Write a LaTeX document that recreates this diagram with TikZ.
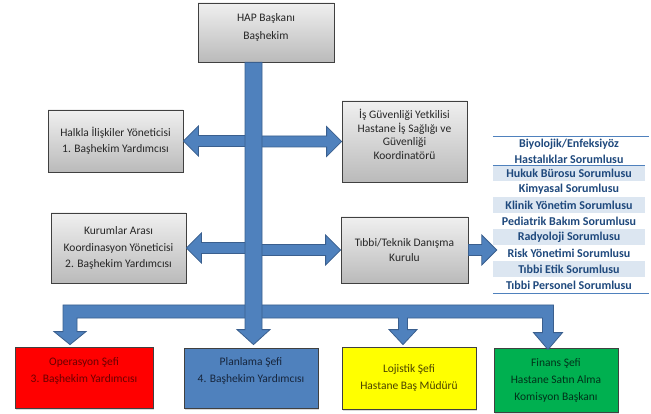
\documentclass[tikz,border=0pt]{standalone}
\usepackage{fontspec}
\setmainfont{Carlito}
\usetikzlibrary{calc,positioning,shadows}

\definecolor{arrowblue}{HTML}{4F81BD}
\definecolor{arrowedge}{HTML}{3A5F8E}
\definecolor{listblue}{HTML}{1F497D}
\definecolor{listband}{HTML}{DCE6F1}
\definecolor{opsred}{HTML}{FF0000}
\definecolor{opstext}{HTML}{6A0000}
\definecolor{plantext}{HTML}{17263D}
\definecolor{logyellow}{HTML}{FFFF00}
\definecolor{logtext}{HTML}{4A4200}
\definecolor{fingreen}{HTML}{00B050}
\definecolor{fintext}{HTML}{00321A}

% horizontal block arrow, tip at #2
\newcommand{\hblock}[2]{%
  \draw[blockarrow] let \p1=(#1), \p2=(#2), \n1={sign(\x2-\x1)} in
    (\x1,\y2+5.5pt) -- (\x2-\n1*15pt,\y2+5.5pt) -- (\x2-\n1*15pt,\y2+15pt) -- (\x2,\y2)
    -- (\x2-\n1*15pt,\y2-15pt) -- (\x2-\n1*15pt,\y2-5.5pt) -- (\x1,\y2-5.5pt) -- cycle;}

\begin{document}
\begin{tikzpicture}[x=1pt,y=-1pt,
    boxshadow/.style={drop shadow={shadow xshift=1.2pt,shadow yshift=-1.5pt,opacity=0.3}},
    graybox/.style={draw=black!75, line width=0.8pt, top color=black!6, bottom color=black!27,
      text=black!85, align=center, inner sep=0pt, boxshadow,
      font=\fontsize{11.5}{16.5}\selectfont},
    chiefbox/.style={draw=black!75, line width=0.8pt, align=center, inner sep=0pt, boxshadow,
      font=\fontsize{11.5}{17}\selectfont},
    lift/.style={text depth=#1},
    blockarrow/.style={fill=arrowblue, draw=arrowedge, line width=0.8pt, line join=miter},
    listrow/.style={minimum width=152pt, minimum height=16pt, inner sep=0pt, text=listblue,
      font=\fontsize{12}{16}\selectfont\bfseries},
    listline/.style={draw=arrowblue, line width=1.2pt}]
  \useasboundingbox (0,0) rectangle (651,414);

  % head and staff boxes
  \node[graybox,lift=12pt,minimum width=136pt,minimum height=59pt] (hap) at (266,32.5) {HAP Başkanı\\[2pt]Başhekim};
  \node[graybox,minimum width=135pt,minimum height=62pt] (halkla) at (115.5,141)
    {Halkla İlişkiler Yöneticisi\\1. Başhekim Yardımcısı};
  \node[graybox,minimum width=135pt,minimum height=70pt] (kurum) at (118.5,248)
    {Kurumlar Arası\\Koordinasyon Yöneticisi\\2. Başhekim Yardımcısı};
  \node[graybox,lift=14pt,minimum width=125pt,minimum height=81pt,font=\fontsize{11.5}{13.5}\selectfont] (isg) at (404.5,141.5)
    {İş Güvenliği Yetkilisi\\Hastane İş Sağlığı ve\\Güvenliği\\Koordinatörü};
  \node[graybox,minimum width=127pt,minimum height=66pt,font=\fontsize{11.5}{15}\selectfont] (tibbi) at (404.5,250)
    {Tıbbi/Teknik Danışma\\Kurulu};

  % list of officers
  \node[listrow,minimum height=28pt,align=center] (biyo) at (569,151)
    {Biyolojik/Enfeksiyöz\\Hastalıklar Sorumlusu};
  \foreach \txt [count=\i] in {Hukuk Bürosu Sorumlusu, Kimyasal Sorumlusu,
      Klinik Yönetim Sorumlusu, Pediatrik Bakım Sorumlusu, Radyoloji Sorumlusu,
      Risk Yönetimi Sorumlusu, Tıbbi Etik Sorumlusu, Tıbbi Personel Sorumlusu} {
    \ifodd\i \def\bandcol{listband}\else\def\bandcol{white}\fi
    \node[listrow,fill=\bandcol] (row\i) at (569,{157+16*\i}) {\txt};
  }
  \draw[listline] (biyo.north west) -- ([xshift=4pt]biyo.north east);
  \draw[listline,line width=0.8pt] (biyo.south west) -- (biyo.south east);
  \draw[listline] (row8.south west) -- ([xshift=4pt]row8.south east);

  % chiefs
  \node[chiefbox,lift=15pt,fill=opsred,text=opstext,minimum width=138pt,minimum height=61pt] (ops) at (84,377.5)
    {Operasyon Şefi\\3. Başhekim Yardımcısı};
  \node[chiefbox,lift=15pt,fill=arrowblue,text=plantext,minimum width=134pt,minimum height=60pt] (plan) at (251,378)
    {Planlama Şefi\\4. Başhekim Yardımcısı};
  \node[chiefbox,fill=logyellow,text=logtext,minimum width=134pt,minimum height=62pt] (loj) at (409,378)
    {Lojistik Şefi\\Hastane Baş Müdürü};
  \node[chiefbox,fill=fingreen,text=fintext,minimum width=124pt,minimum height=64pt] (fin) at (556,380)
    {Finans Şefi\\Hastane Satın Alma\\Komisyon Başkanı};

  % side arrows
  \coordinate (trunk) at (253.5,0);
  \hblock{trunk |- halkla.east}{halkla.east}
  \hblock{trunk |- kurum.east}{kurum.east}
  \hblock{trunk |- isg.west}{isg.west}
  \hblock{trunk |- tibbi.west}{tibbi.west}
  \coordinate[xshift=4pt] (listin) at (tibbi.east -| row5.west);
  \hblock{tibbi.east}{listin}

  % bus to the chiefs
  \coordinate (bus) at (253.5,311.5);
  \coordinate[xshift=-14pt,yshift=2pt] (opstip) at (ops.north);
  \coordinate[xshift=-6pt,yshift=2pt] (logtip) at (loj.north);
  \coordinate[xshift=-8pt,yshift=-2pt] (fintip) at (fin.north);
  \draw[blockarrow] let \p1=(bus), \p2=(opstip) in
    (\x1,\y1+6.5pt) -- (\x2-7pt,\y1+6.5pt) -- (\x2-7pt,\y2+13pt) -- (\x2-16pt,\y2+13pt) -- (\x2,\y2)
    -- (\x2+16pt,\y2+13pt) -- (\x2+7pt,\y2+13pt) -- (\x2+7pt,\y1-6.5pt) -- (\x1,\y1-6.5pt) -- cycle;
  \draw[blockarrow] let \p1=(bus), \p2=(logtip), \p3=(fintip) in
    (\x1,\y1+6.5pt) -- (\x3+5.5pt,\y1+6.5pt) -- (\x3+5.5pt,\y3+17pt) -- (\x3+14.5pt,\y3+17pt) -- (\x3,\y3)
    -- (\x3-14.5pt,\y3+17pt) -- (\x3-5.5pt,\y3+17pt) -- (\x3-5.5pt,\y1-6.5pt)
    -- (\x2+4.5pt,\y1-6.5pt) -- (\x2+4.5pt,\y2+15pt) -- (\x2+14pt,\y2+15pt) -- (\x2,\y2)
    -- (\x2-14pt,\y2+15pt) -- (\x2-4.5pt,\y2+15pt) -- (\x2-4.5pt,\y1-6.5pt) -- (\x1,\y1-6.5pt) -- cycle;

  % trunk
  \coordinate[yshift=3pt] (plantip) at (trunk |- plan.north);
  \draw[blockarrow] let \p1=(trunk |- hap.south), \p2=(plantip) in
    (\x1-8.5pt,\y1) -- (\x1-8.5pt,\y2+15pt) -- (\x1-16.5pt,\y2+15pt) -- (\x1,\y2)
    -- (\x1+16.5pt,\y2+15pt) -- (\x1+8.5pt,\y2+15pt) -- (\x1+8.5pt,\y1) -- cycle;
\end{tikzpicture}
\end{document}
